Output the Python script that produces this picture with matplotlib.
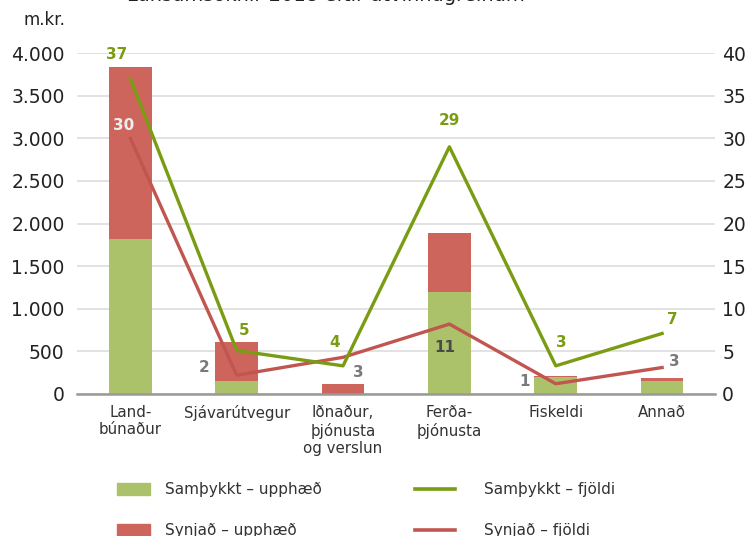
import matplotlib.pyplot as plt
import numpy as np
from matplotlib.patches import Patch
from matplotlib.lines import Line2D

plt.rcParams['font.family'] = ['DejaVu Sans']

categories = ["Land-\nbúnaður", "Sjávarútvegur", "Iðnaður,\nþjónusta\nog verslun",
              "Ferða-\nþjónusta", "Fiskeldi", "Annað"]
samthykkt_upphaed = [1820, 155, 0, 1200, 200, 150]
synjad_upphaed = [2015, 450, 115, 690, 10, 40]
samthykkt_fjoldi = [37, 5.1, 3.3, 29, 3.3, 7.1]
synjad_fjoldi = [30, 2.2, 4.3, 8.2, 1.2, 3.1]
samthykkt_labels = ["37", "5", "4", "29", "3", "7"]
synjad_labels = ["30", "2", "3", "11", "1", "3"]

green_bar = '#abc26b'
red_bar = '#cd655d'
green_line = '#7a9c12'
red_line = '#c0564f'

fig = plt.figure(figsize=(7.49, 5.36), dpi=100)
ax = fig.add_axes([0.103, 0.265, 0.852, 0.636])
x = np.arange(len(categories))

ax.bar(x, samthykkt_upphaed, 0.4, color=green_bar, zorder=2)
ax.bar(x, synjad_upphaed, 0.4, bottom=samthykkt_upphaed, color=red_bar, zorder=2)
ax.set_xlim(-0.5, 5.5)
ax.set_ylim(0, 4000)
ax.set_yticks(range(0, 4001, 500))
ax.set_yticklabels([f"{v:,}".replace(",", ".") for v in range(0, 4001, 500)])
ax.grid(axis='y', color='#dddddd', lw=1.2, zorder=0)
for s in ['top', 'right', 'left']:
    ax.spines[s].set_visible(False)
ax.spines['bottom'].set_color('#999999')
ax.spines['bottom'].set_linewidth(1.8)
ax.spines['bottom'].set_zorder(3)
ax.set_xticks(x)
ax.set_xticklabels(categories, color='#333333', linespacing=1.2)
ax.tick_params(axis='y', length=0, labelsize=13.5, colors='#222222', pad=9)
ax.tick_params(axis='x', length=0, labelsize=10.8, pad=8)

ax2 = ax.twinx()
ax2.set_ylim(0, 40)
ax2.set_yticks(range(0, 41, 5))
for s in ax2.spines.values():
    s.set_visible(False)
ax2.tick_params(axis='y', length=0, labelsize=13.5, colors='#222222', pad=5)
ax2.plot(x, samthykkt_fjoldi, color=green_line, lw=2.4, zorder=4)
ax2.plot(x, synjad_fjoldi, color=red_line, lw=2.4, zorder=3)

# data labels
g_off = [(-0.13, 2.0), (0.07, 1.5), (-0.08, 1.8), (0.0, 2.2), (0.05, 1.8), (0.1, 0.8)]
for i, lab in enumerate(samthykkt_labels):
    dx, dy = g_off[i]
    ax2.text(x[i] + dx, samthykkt_fjoldi[i] + dy, lab, color=green_line, fontsize=11,
             fontweight='bold', ha='center', va='bottom')
r_pos = [(-0.06, 31.5, '#eeeeee'), (-0.31, 3.1, '#7a7a7a'), (0.14, 2.5, '#7a7a7a'),
         (-0.04, 5.4, '#4a4a4a'), (-0.29, 1.5, '#7a7a7a'), (0.11, 3.8, '#7a7a7a')]
for i, lab in enumerate(synjad_labels):
    dx, yy, c = r_pos[i]
    ax2.text(x[i] + dx, yy, lab, color=c, fontsize=11, fontweight='bold',
             ha='center', va='center')

fig.text(0.032, 0.962, "m.kr.", fontsize=12, color='#222222', ha='left', va='center')
fig.text(0.435, 0.999, "Lánsumsóknir 2018 eftir atvinnugreinum", fontsize=14,
         color='#222222', ha='center', va='baseline')

# two legend columns: bars on the left, lines on the right
bar_handles = [Patch(color=green_bar), Patch(color=red_bar)]
bar_labels = ["Samþykkt – upphæð", "Synjað – upphæð"]
leg1 = fig.legend(bar_handles, bar_labels, loc='upper left', bbox_to_anchor=(0.156, 0.1),
                  frameon=False, fontsize=11, handlelength=2.15, handleheight=0.9,
                  handletextpad=1.0, labelspacing=1.7, borderaxespad=0, borderpad=0,
                  labelcolor='#333333')
line_handles = [Line2D([], [], color=green_line, lw=2.6), Line2D([], [], color=red_line, lw=2.6)]
line_labels = ["Samþykkt – fjöldi", "Synjað – fjöldi"]
fig.legend(line_handles, line_labels, loc='upper left', bbox_to_anchor=(0.554, 0.1),
           frameon=False, fontsize=11, handlelength=2.6, handleheight=0.9,
           handletextpad=1.95, labelspacing=1.7, borderaxespad=0, borderpad=0,
           labelcolor='#333333')

fig.savefig('out.png', dpi=100)
